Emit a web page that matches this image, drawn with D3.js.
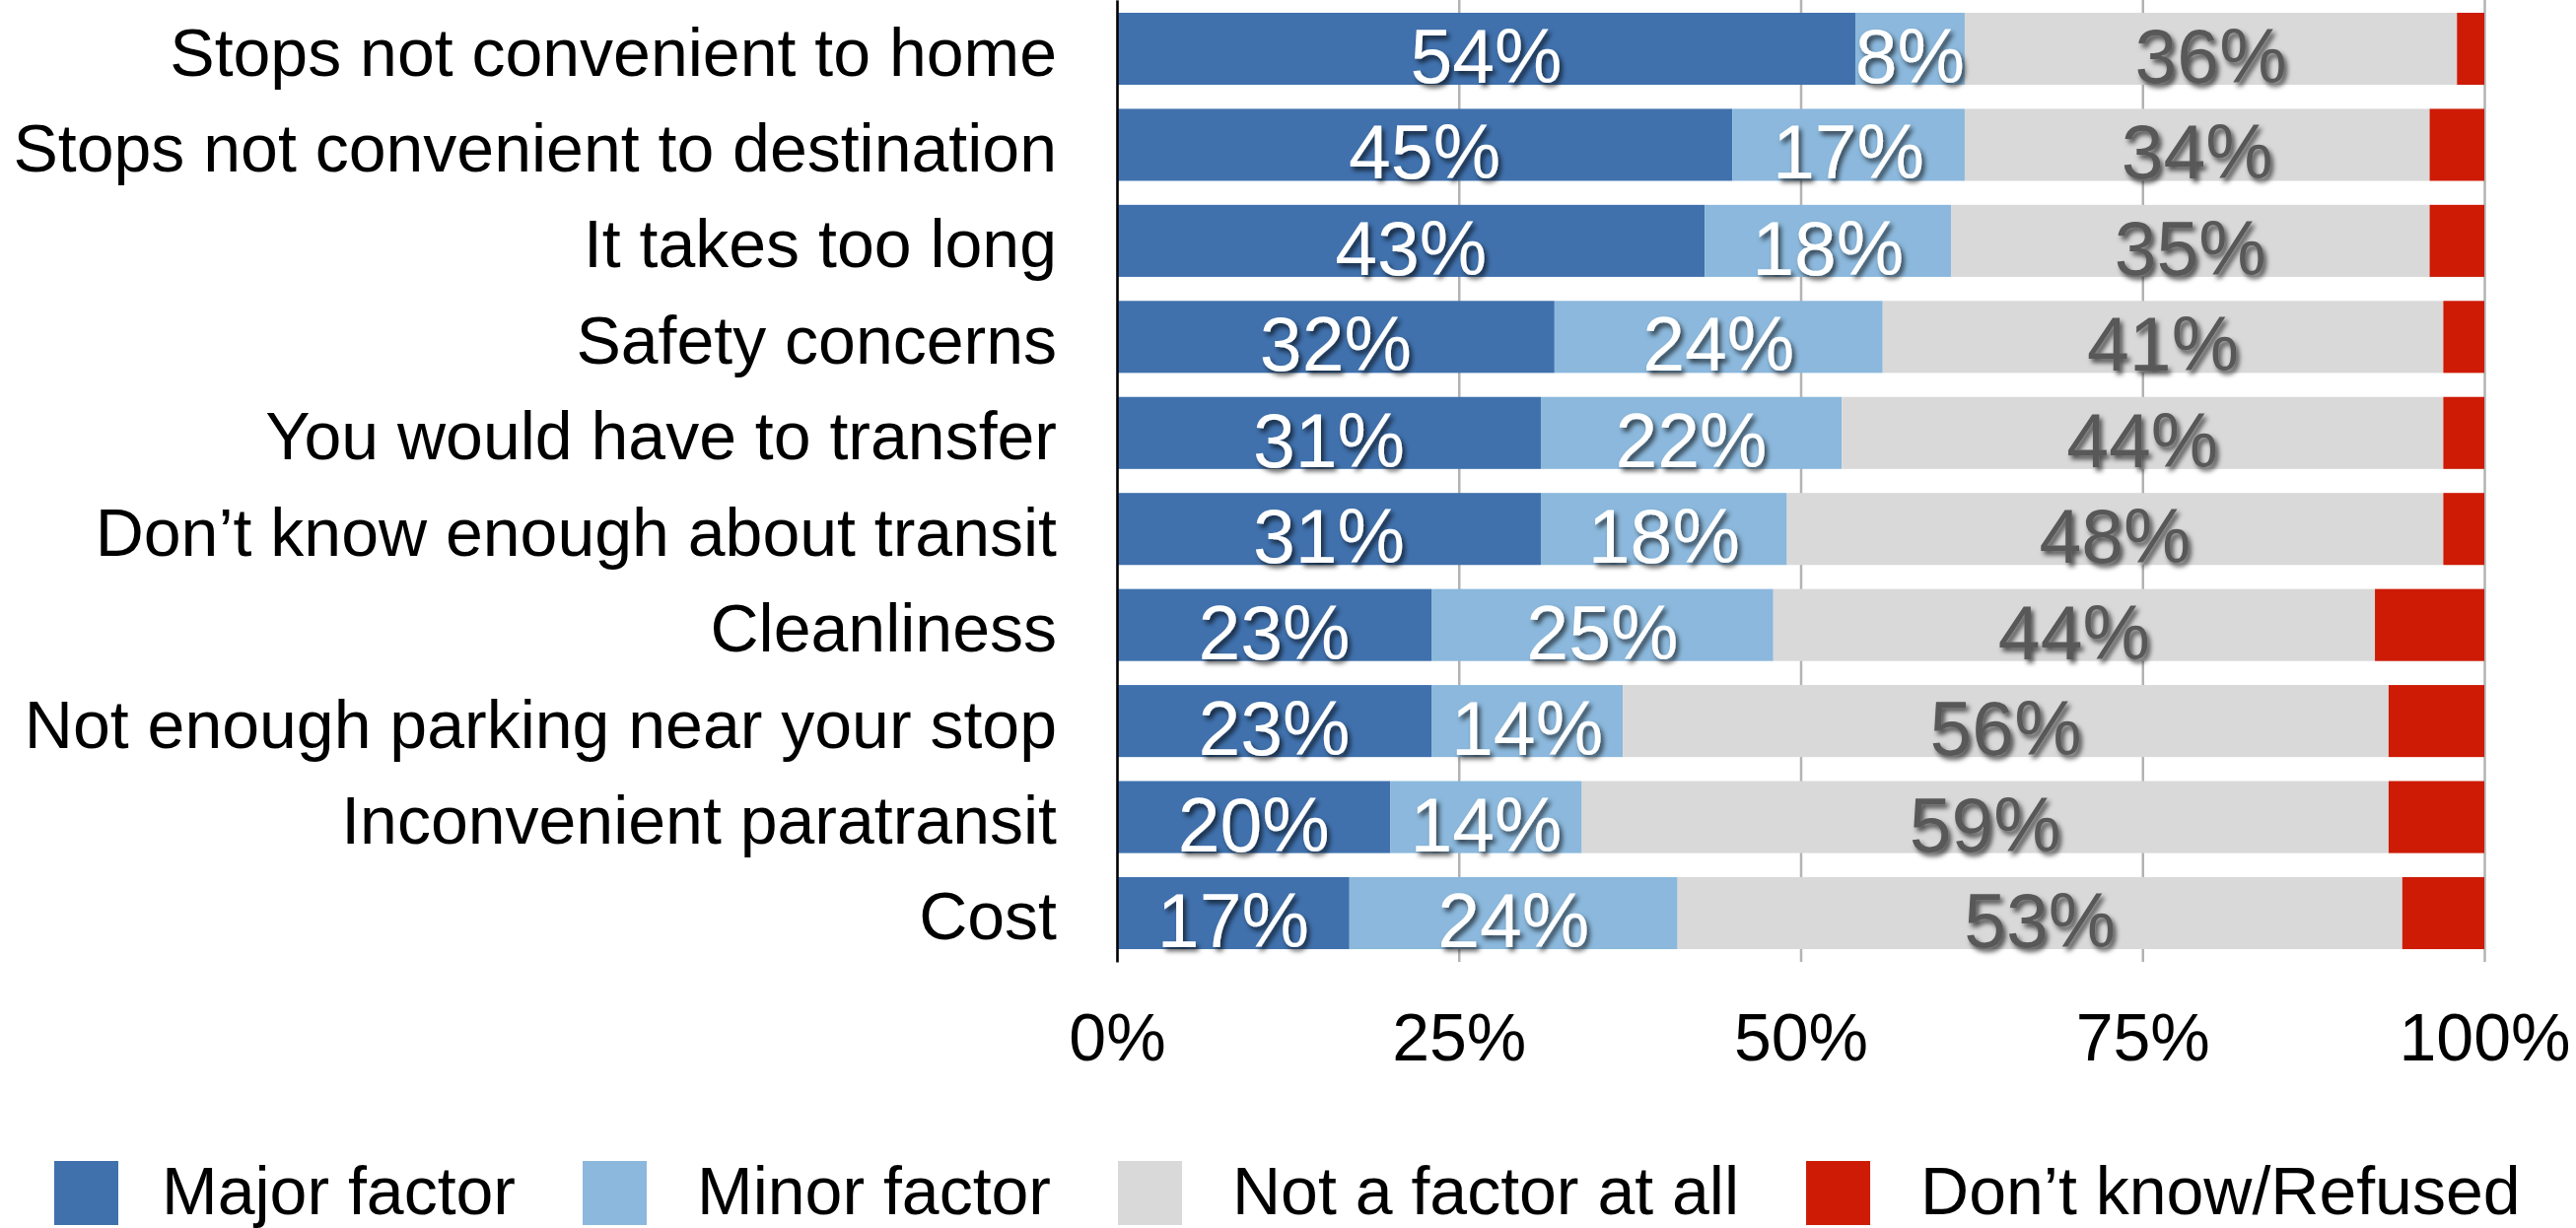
<!DOCTYPE html>
<html>
<head>
<meta charset="utf-8">
<script src="https://cdn.jsdelivr.net/npm/d3@7"></script>
<style>
  html, body { margin: 0; padding: 0; background: #fff; }
  svg { display: block; font-family: "Liberation Sans", Arial, sans-serif; }
</style>
</head>
<body>
<svg id="chart" width="2613" height="1246"></svg>
<script>
const categories = [
  "Stops not convenient to home",
  "Stops not convenient to destination",
  "It takes too long",
  "Safety concerns",
  "You would have to transfer",
  "Don\u2019t know enough about transit",
  "Cleanliness",
  "Not enough parking near your stop",
  "Inconvenient paratransit",
  "Cost"
];
const seriesNames = ["Major factor", "Minor factor", "Not a factor at all", "Don\u2019t know/Refused"];
const majorFactor = [54, 45, 43, 32, 31, 31, 23, 23, 20, 17];
const minorFactor = [8, 17, 18, 24, 22, 18, 25, 14, 14, 24];
const notAFactor  = [36, 34, 35, 41, 44, 48, 44, 56, 59, 53];
const dontKnow    = [2, 4, 4, 3, 3, 3, 8, 7, 7, 6];
const xTicks = [0, 25, 50, 75, 100];

const colors = ["#4071ad", "#8bb8dc", "#d9d9d9", "#cd1b06"];
const labelColors = ["#ffffff", "#ffffff", "#595959", null];

const svg = d3.select("#chart");
const W = 2613, H = 1246;
const margin = { left: 1133, top: 0, right: 93, bottom: 270 };
const plotW = W - margin.left - margin.right;
const plotH = H - margin.top - margin.bottom;

const defs = svg.append("defs");
const f = defs.append("filter").attr("id", "shadow")
  .attr("x", "-20%").attr("y", "-20%").attr("width", "150%").attr("height", "160%");
f.append("feDropShadow").attr("dx", 3).attr("dy", 4).attr("stdDeviation", 2.5)
  .attr("flood-color", "#000").attr("flood-opacity", 0.65);

const x = d3.scaleLinear().domain([0, 100]).range([0, plotW]);
const y = d3.scaleBand().domain(categories).range([0, plotH])
  .paddingInner(0.25).paddingOuter(0.133);

const g = svg.append("g").attr("transform", `translate(${margin.left},${margin.top})`);

// gridlines + x tick labels
const xAxis = g.append("g").attr("transform", `translate(0,${plotH})`)
  .call(d3.axisBottom(x).tickValues(xTicks).tickFormat(d => d + "%")
    .tickSizeInner(-plotH).tickSizeOuter(0).tickPadding(52));
xAxis.select(".domain").remove();
xAxis.selectAll(".tick line").attr("stroke", "#b3b3b3").attr("stroke-width", 2.5);
xAxis.selectAll(".tick text").attr("font-size", 68).attr("fill", "#000")
  .attr("font-family", "'Liberation Sans', Arial, sans-serif");

// stacked data
const rows = categories.map((c, i) => ({
  cat: c, vals: [majorFactor[i], minorFactor[i], notAFactor[i], dontKnow[i]]
}));
const keys = [0, 1, 2, 3];
const stack = d3.stack().keys(keys).value((d, k) => d.vals[k]);
const stacked = stack(rows);

const layers = g.selectAll("g.layer").data(stacked).join("g")
  .attr("class", "layer").attr("fill", (d, i) => colors[i]);

layers.selectAll("rect").data(d => d).join("rect")
  .attr("x", d => x(d[0]))
  .attr("y", d => y(d.data.cat))
  .attr("width", d => x(d[1]) - x(d[0]))
  .attr("height", y.bandwidth());

// value labels
stacked.forEach((layer, li) => {
  if (!labelColors[li]) return;
  g.append("g").selectAll("text").data(layer).join("text")
    .attr("x", d => (x(d[0]) + x(d[1])) / 2)
    .attr("y", d => y(d.data.cat) + y.bandwidth() - 2)
    .attr("text-anchor", "middle")
    .attr("font-size", 77)
    .attr("fill", labelColors[li])
    .attr("filter", "url(#shadow)")
    .text(d => (d[1] - d[0]) + "%");
});

// category axis
const yAxis = g.append("g")
  .call(d3.axisLeft(y).tickSize(0).tickPadding(61));
yAxis.select(".domain").attr("stroke", "#000").attr("stroke-width", 2.5);
yAxis.selectAll(".tick text").attr("font-size", 68).attr("fill", "#000")
  .attr("font-family", "'Liberation Sans', Arial, sans-serif")
  .attr("dy", null).attr("y", 0)
  .attr("dominant-baseline", "auto")
  .attr("transform", "translate(0,27)");

// legend
const legend = svg.append("g").attr("transform", "translate(55,1178)");
let lx = 0;
seriesNames.forEach((name, i) => {
  const item = legend.append("g").attr("transform", `translate(${lx},0)`);
  item.append("rect").attr("width", 65).attr("height", 65).attr("fill", colors[i]);
  const t = item.append("text").attr("x", i === 0 ? 109 : 116).attr("y", 54)
    .attr("font-size", 68).attr("fill", "#000").text(name);
  lx += (i === 0 ? 109 : 116) + t.node().getComputedTextLength() + 68;
});
</script>
</body>
</html>
